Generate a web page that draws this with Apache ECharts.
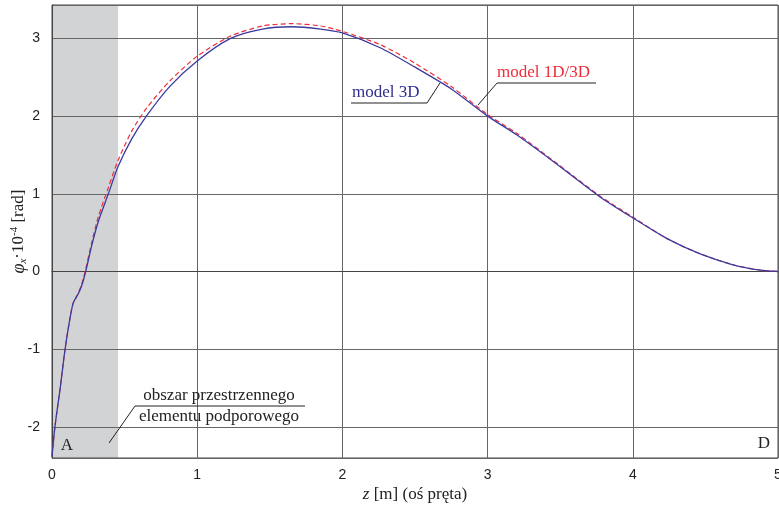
<!DOCTYPE html>
<html>
<head>
<meta charset="utf-8">
<script src="https://cdn.jsdelivr.net/npm/echarts@6/dist/echarts.min.js"></script>
<style>
  html, body { margin: 0; padding: 0; background: #fff; }
  #main { width: 779px; height: 505px; }
</style>
</head>
<body>
<div id="main"></div>
<script>
// z [m] along the bar
var zValues = [0, 0.02, 0.055, 0.09, 0.124, 0.147, 0.18, 0.205, 0.232, 0.273, 0.32, 0.388, 0.455, 0.55, 0.65, 0.81, 1.0, 1.23, 1.45, 1.65, 1.85, 2.0, 2.26, 2.5, 2.75, 3.0, 3.2, 3.45, 3.775, 4.0, 4.23, 4.46, 4.69, 4.88, 5.0];
// model 3D (blue, solid)
var model3D = [-2.38, -2.0, -1.52, -1.0, -0.6, -0.4, -0.29, -0.18, 0.0, 0.33, 0.65, 1.0, 1.35, 1.71, 2.0, 2.38, 2.71, 3.0, 3.12, 3.15, 3.12, 3.07, 2.88, 2.63, 2.35, 2.0, 1.76, 1.42, 0.96, 0.69, 0.43, 0.23, 0.087, 0.017, 0.0];
// model 1D/3D (red, dashed)
var model1D3D = [-2.38, -2.0, -1.52, -1.0, -0.6, -0.4, -0.28, -0.16, 0.03, 0.37, 0.71, 1.08, 1.43, 1.81, 2.1, 2.45, 2.77, 3.03, 3.16, 3.19, 3.16, 3.09, 2.92, 2.68, 2.38, 2.02, 1.78, 1.43, 0.97, 0.70, 0.43, 0.23, 0.087, 0.017, 0.0];
// shaded support element region
var supportZone = [0, 0.455];

function pairs(xs, ys) {
    var out = [];
    for (var i = 0; i < xs.length; i++) {
        out.push([xs[i], ys[i]]);
    }
    return out;
}

var serif = '"Liberation Serif", "Times New Roman", serif';
var sans = '"Liberation Sans", Arial, sans-serif';

var myChart = echarts.init(document.getElementById('main'));

var option = {
    animation: false,
    backgroundColor: '#fff',
    grid: {
        left: 52, right: 1, top: 5, bottom: 47,
        containLabel: false,
        outerBoundsMode: 'none',
        show: true, z: 2,
        borderColor: '#444', borderWidth: 1,
        backgroundColor: 'transparent'
    },
    xAxis: {
        type: 'value',
        min: 0, max: 5, interval: 1,
        z: 2,
        name: '{i|z} [m] (oś pręta)',
        nameLocation: 'middle',
        nameGap: 28,
        nameMoveOverlap: false,
        nameTextStyle: {
            fontFamily: serif, fontSize: 17, color: '#222',
            rich: { i: { fontFamily: serif, fontSize: 17, fontStyle: 'italic', color: '#222' } }
        },
        axisLine: { show: true, lineStyle: { color: '#444', width: 1 } },
        axisTick: { show: false },
        axisLabel: { fontFamily: sans, fontSize: 14, color: '#222', margin: 10 },
        splitLine: { show: true, lineStyle: { color: '#666', width: 1 } }
    },
    yAxis: {
        type: 'value',
        min: -2.4, max: 3.43,
        z: 2,
        name: '{i|φ}{sub|x}{n|·10}{sup|-4}{n| [rad]}',
        nameLocation: 'middle',
        nameGap: 23,
        nameMoveOverlap: false,
        nameTextStyle: {
            rich: {
                i: { fontFamily: serif, fontSize: 18, fontStyle: 'italic', color: '#222', lineHeight: 20 },
                sub: { fontFamily: serif, fontSize: 11, fontStyle: 'italic', color: '#222', verticalAlign: 'bottom', lineHeight: 20 },
                n: { fontFamily: serif, fontSize: 17, color: '#222', lineHeight: 20 },
                sup: { fontFamily: serif, fontSize: 11, color: '#222', verticalAlign: 'top', lineHeight: 20 }
            }
        },
        axisLine: { show: true, lineStyle: { color: '#444', width: 1 } },
        axisTick: { show: false },
        axisLabel: {
            fontFamily: sans, fontSize: 14, color: '#222', margin: 12,
            formatter: function (v) {
                return Math.abs(v - Math.round(v)) < 1e-6 ? String(Math.round(v)) : '';
            }
        },
        splitLine: { show: true, lineStyle: { color: '#666', width: 1 } }
    },
    series: [
        {
            name: 'model 1D/3D',
            type: 'line',
            z: 3,
            data: pairs(zValues, model1D3D),
            showSymbol: false,
            smooth: 0.25,
            lineStyle: { color: '#ee2c3a', width: 1.2, type: [5, 3] },
            markArea: {
                silent: true,
                z: 1,
                itemStyle: { color: '#d2d3d5' },
                data: [[{ xAxis: supportZone[0] }, { xAxis: supportZone[1] }]]
            }
        },
        {
            name: 'model 3D',
            type: 'line',
            z: 4,
            data: pairs(zValues, model3D),
            showSymbol: false,
            smooth: 0.25,
            lineStyle: { color: '#3a3a9e', width: 1.3 }
        }
    ],
    graphic: [
        { type: 'text', x: 67, y: 446, style: { text: 'A', font: '17px ' + serif, fill: '#222', align: 'center', verticalAlign: 'middle' }, z: 10 },
        { type: 'text', x: 764, y: 444, style: { text: 'D', font: '17px ' + serif, fill: '#222', align: 'center', verticalAlign: 'middle' }, z: 10 },
        { type: 'text', x: 219, y: 396, style: { text: 'obszar przestrzennego', font: '17px ' + serif, fill: '#222', align: 'center', verticalAlign: 'middle' }, z: 10 },
        { type: 'text', x: 219, y: 417, style: { text: 'elementu podporowego', font: '17px ' + serif, fill: '#222', align: 'center', verticalAlign: 'middle' }, z: 10 },
        { type: 'polyline', shape: { points: [[109, 443], [135, 406], [305, 406]] }, style: { stroke: '#222', lineWidth: 1, fill: null }, z: 10 },
        { type: 'text', x: 352, y: 93, style: { text: 'model 3D', font: '17px ' + serif, fill: '#2e2e8e', align: 'left', verticalAlign: 'middle' }, z: 10 },
        { type: 'polyline', shape: { points: [[351, 103], [427, 103], [440, 83]] }, style: { stroke: '#222', lineWidth: 1, fill: null }, z: 10 },
        { type: 'text', x: 497, y: 73, style: { text: 'model 1D/3D', font: '17px ' + serif, fill: '#ee2c3a', align: 'left', verticalAlign: 'middle' }, z: 10 },
        { type: 'polyline', shape: { points: [[478, 105], [497, 83], [596, 83]] }, style: { stroke: '#222', lineWidth: 1, fill: null }, z: 10 }
    ]
};
myChart.setOption(option);
</script>
</body>
</html>
